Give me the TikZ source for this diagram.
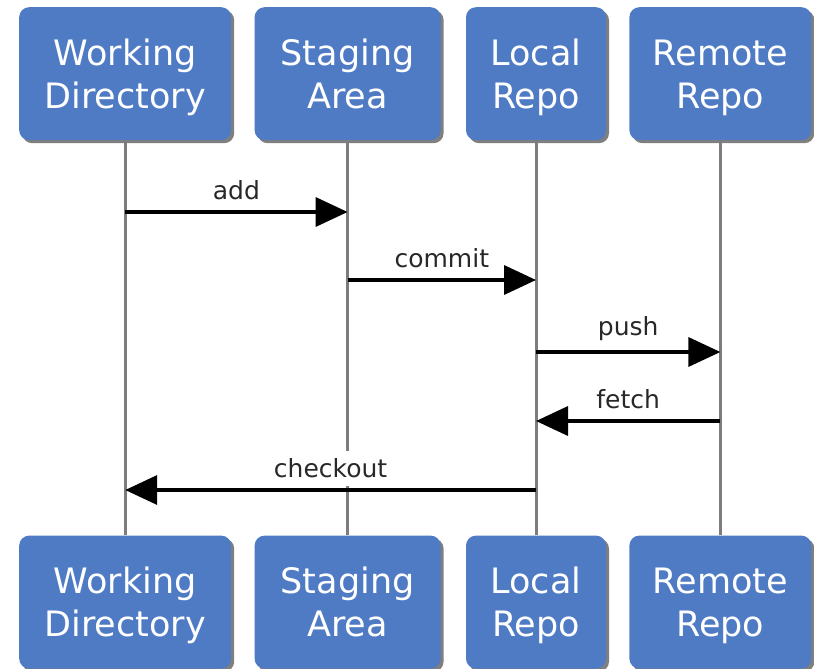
\documentclass[tikz,border=0pt]{standalone}
\usepackage{fontspec}
\setmainfont{DejaVu Sans}
\usepackage{tikz}
\usetikzlibrary{positioning, arrows.meta, shadows}
\definecolor{repoblue}{RGB}{79,123,196}
\definecolor{lifegray}{RGB}{125,125,125}
\definecolor{labelgray}{RGB}{40,40,40}

\begin{document}
\begin{tikzpicture}[
    x=1pt, y=1pt,
    box/.style={rectangle, fill=repoblue, rounded corners=10pt, minimum height=133pt, inner xsep=0pt, align=center, text=white, font=\fontsize{35}{43}\selectfont, text height=77pt, text depth=8pt, drop shadow={shadow xshift=3pt, shadow yshift=-3pt, fill=black, opacity=0.5}},
    life/.style={draw=lifegray, line width=3pt},
    msg/.style={line width=3.5pt, -{Triangle[length=32pt, width=29pt]}},
    lbl/.style={above, yshift=2pt, fill=white, inner sep=8pt, text=labelgray, font=\fontsize{25}{30}\selectfont}
]
\useasboundingbox (0,0) rectangle (814,-669);

% top row
\node[box, minimum width=212pt, anchor=north west] (wd) at (19,-7) {Working\\Directory};
\node[box, minimum width=186pt, right=23pt of wd] (sa) {Staging\\Area};
\node[box, minimum width=140pt, right=25pt of sa] (lr) {Local\\Repo};
\node[box, minimum width=182pt, right=23pt of lr] (rr) {Remote\\Repo};

% bottom row
\node[box, minimum width=212pt, below=395pt of wd] (wd2) {Working\\Directory};
\node[box, minimum width=186pt, below=395pt of sa] (sa2) {Staging\\Area};
\node[box, minimum width=140pt, below=395pt of lr] (lr2) {Local\\Repo};
\node[box, minimum width=182pt, below=395pt of rr] (rr2) {Remote\\Repo};

% lifelines
\foreach \a/\b in {wd/wd2, sa/sa2, lr/lr2, rr/rr2}
    \draw[life] (\a) -- (\b);

% messages
\path (0,-212) coordinate (yadd) (0,-280) coordinate (ycommit) (0,-352) coordinate (ypush)
      (0,-421) coordinate (yfetch) (0,-490) coordinate (ycheckout);
\draw[msg] (wd |- yadd) -- node[lbl] {add} (sa |- yadd);
\draw[msg] (sa |- ycommit) -- node[lbl] {commit} (lr |- ycommit);
\draw[msg] (lr |- ypush) -- node[lbl] {push} (rr |- ypush);
\draw[msg] (rr |- yfetch) -- node[lbl] {fetch} (lr |- yfetch);
\draw[msg] (lr |- ycheckout) -- node[lbl] {checkout} (wd |- ycheckout);
\end{tikzpicture}
\end{document}
